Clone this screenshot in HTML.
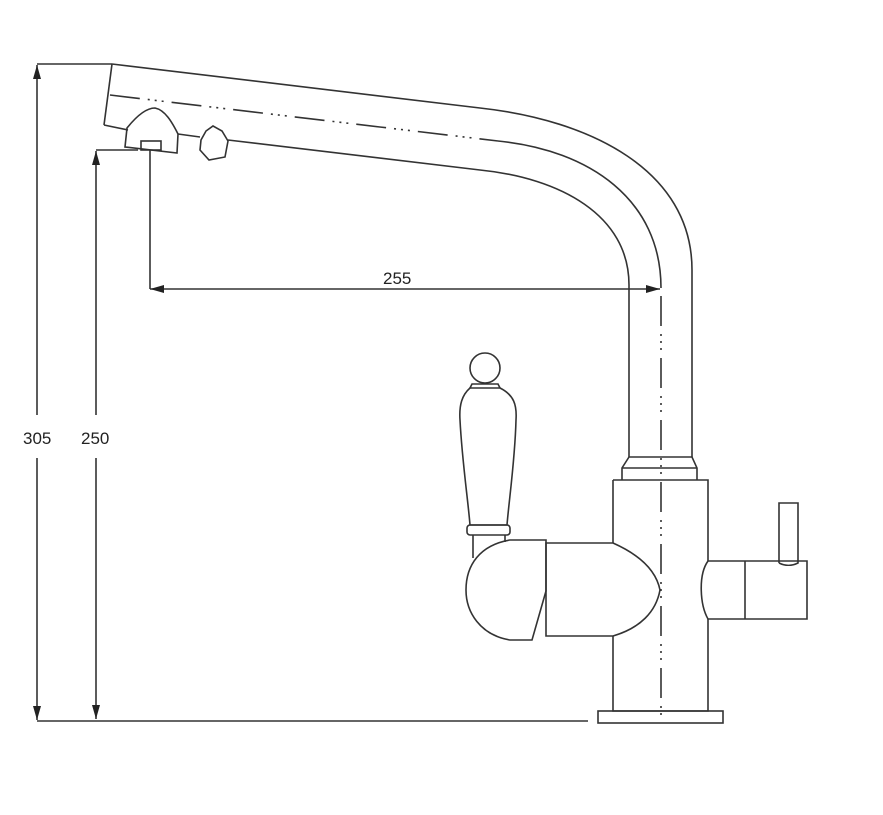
<!DOCTYPE html>
<html><head><style>
html,body{margin:0;padding:0;background:#fff;}
svg{display:block}
text{font-family:"Liberation Sans",sans-serif;font-size:17px;fill:#222}
</style></head><body>
<svg width="883" height="815" viewBox="0 0 883 815" xmlns="http://www.w3.org/2000/svg">
<defs>
<marker id="a" viewBox="0 0 10 10" refX="10" refY="5" markerWidth="14" markerHeight="8" orient="auto-start-reverse" markerUnits="userSpaceOnUse" preserveAspectRatio="none"><path d="M0,0 L10,5 L0,10z" fill="#222"/></marker>
</defs>
<g fill="none" stroke="#333" stroke-width="1.6">
<!-- dimensions -->
<line x1="37" y1="415" x2="37" y2="65" marker-end="url(#a)"/>
<line x1="37" y1="458" x2="37" y2="720" marker-end="url(#a)"/>
<line x1="37" y1="64" x2="112" y2="64"/>
<line x1="96" y1="415" x2="96" y2="151" marker-end="url(#a)"/>
<line x1="96" y1="458" x2="96" y2="719" marker-end="url(#a)"/>
<line x1="96" y1="150" x2="138" y2="150"/>
<line x1="37" y1="721" x2="588" y2="721"/>
<line x1="150" y1="150" x2="150" y2="289"/>
<line x1="150" y1="289" x2="660" y2="289" marker-start="url(#a)" marker-end="url(#a)"/>
<!-- spout -->
<path d="M112,64 L480,108 C590,120 692,170 692,270 L692,457"/>
<path d="M104,125 L128,130"/>
<path d="M112,64 L104,125"/>
<path d="M178,134 L200,137"/>
<path d="M228,140 L480,170 C560,178 629,215 629,285 L629,457"/>
<path d="M125,147 L127,128 C135,118 145,108 155,108 C165,110 172,122 178,134 L177,153 Z"/>
<rect x="141" y="141" width="20" height="9"/>
<path d="M206,131 L213,126 L222,131 L228,141 L225,157 L209,160 L200,150 L201,140 Z"/>
<path d="M110,95 L498,141" stroke-dasharray="30,8,2,5,2,5,2,8"/>
<path d="M498,141 C590,150 661,200 661,288"/>
<path d="M661,296 L661,720" stroke-dasharray="30,8,2,5,2,5,2,8"/>
<!-- collar -->
<path d="M629,457 L692,457 L697,468 L697,480 M629,457 L622,468 L622,480 M622,468 L697,468"/>
<!-- body -->
<path d="M613,480 L708,480 L708,561 M708,619 L708,711 L613,711 L613,636 M613,543 L613,480"/>
<rect x="598" y="711" width="125" height="12"/>
<!-- left cylinder -->
<path d="M546,543 L613,543 C640,555 656,570 660,590 C656,612 640,628 613,636 L546,636 Z"/>
<!-- ball -->
<path d="M546,540 L546,591 L532,640 L510,640 C480,635 466,612 466,590 C466,565 480,545 510,540 Z"/>
<!-- handle -->
<circle cx="485" cy="368" r="15"/>
<path d="M472,384 L498,384 L500,388 L470,388 Z"/>
<path d="M470,388 C462,395 459,405 460,420 C462,460 468,500 470,525 L507,525 C509,500 515,460 516,420 C517,405 514,395 500,388"/>
<rect x="467" y="525" width="43" height="10" rx="3"/>
<path d="M473,535 L473,558 M505,535 L505,542"/>
<!-- right side -->
<path d="M708,561 L807,561 L807,619 L708,619 C700,605 698,575 708,561"/>
<line x1="745" y1="561" x2="745" y2="619"/>
<path d="M779,563 L779,503 L798,503 L798,563 C792,566 785,566 779,563"/>
</g>
<text x="23" y="444">305</text>
<text x="81" y="444">250</text>
<text x="383" y="284">255</text>
</svg>
</body></html>
